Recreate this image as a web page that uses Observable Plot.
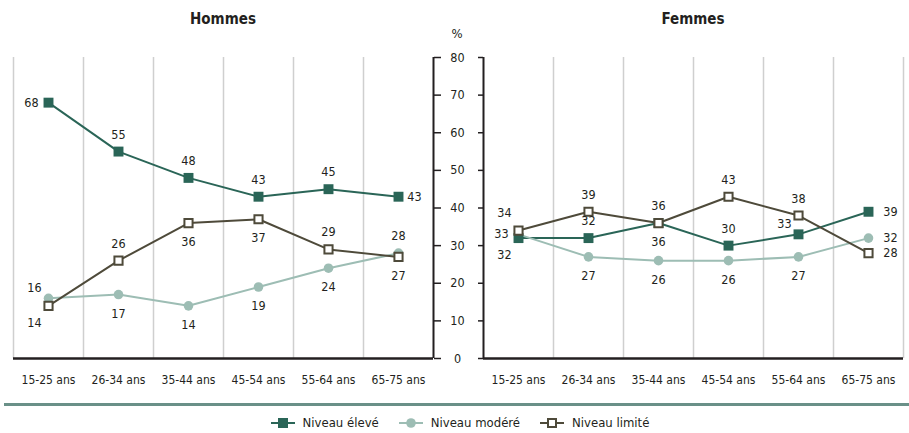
<!DOCTYPE html>
<html><head><meta charset="utf-8">
<script src="https://cdn.jsdelivr.net/npm/d3@7"></script>
<script src="https://cdn.jsdelivr.net/npm/@observablehq/plot@0.6"></script>
<style>
body{margin:0;background:#fff;font-family:"Liberation Sans Narrow","DejaVu Sans Condensed",sans-serif;color:#231f20}
#wrap{position:relative;width:909px;height:433px;overflow:hidden;background:#fff}
.title{position:absolute;top:10px;font-weight:bold;font-size:15px;transform:translateX(-50%);white-space:nowrap}
.pct{position:absolute;top:26px;left:457px;font-size:13px;transform:translateX(-50%)}
.sep{position:absolute;top:403px;left:4px;width:905px;height:2.5px;background:#6a9088}
.legend{position:absolute;top:415px;left:0;width:909px;padding-left:11px;box-sizing:border-box;display:flex;justify-content:center;align-items:center;font-size:13px}
.legend .item{display:flex;align-items:center;margin:0 10px}
.legend svg{margin-right:8px}
</style></head><body><div id="wrap"></div>
<script>
const ages = ["15-25 ans","26-34 ans","35-44 ans","45-54 ans","55-64 ans","65-75 ans"];
const seriesNames = ["Niveau élevé","Niveau modéré","Niveau limité"];
const panelTitles = ["Hommes","Femmes"];
const yTicks = [0,10,20,30,40,50,60,70,80];

const hommesEleve  = [68,55,48,43,45,43];
const hommesModere = [16,17,14,19,24,28];
const hommesLimite = [14,26,36,37,29,27];
const femmesEleve  = [32,32,36,30,33,39];
const femmesModere = [33,27,26,26,27,32];
const femmesLimite = [34,39,36,43,38,28];

// where each value label sits relative to its point
const hommesEleveLabelPos  = ["left","above","above","above","above","right"];
const hommesModereLabelPos = ["upleft","below","below","below","below","above"];
const hommesLimiteLabelPos = ["downleft","above","below","below","above","below"];
const femmesEleveLabelPos  = ["downleft","above","below","above","upleft","farright"];
const femmesModereLabelPos = ["left","below","below","below","below","farright"];
const femmesLimiteLabelPos = ["upleft2","above","above","above","above","farright"];

const colors = {"Niveau élevé":"#2a6557","Niveau modéré":"#9dbdb4","Niveau limité":"#4e4a3a"};
const OFF = {above:[0,-17],below:[0,19],right:[16,0],farright:[22,0],left:[-17,0],upleft:[-14,-10],upleft2:[-14,-18],downleft:[-14,17]};
const FONT = '"Liberation Sans Narrow","DejaVu Sans Condensed",sans-serif';
const INK = "#231f20";

function rowsFor(vals, pos, series){
  return ages.map((a,i)=>({age:a, value:vals[i], pos:pos[i], series}));
}
const hommesRows = [
  ...rowsFor(hommesEleve, hommesEleveLabelPos, seriesNames[0]),
  ...rowsFor(hommesModere, hommesModereLabelPos, seriesNames[1]),
  ...rowsFor(hommesLimite, hommesLimiteLabelPos, seriesNames[2])
];
const femmesRows = [
  ...rowsFor(femmesEleve, femmesEleveLabelPos, seriesNames[0]),
  ...rowsFor(femmesModere, femmesModereLabelPos, seriesNames[1]),
  ...rowsFor(femmesLimite, femmesLimiteLabelPos, seriesNames[2])
];

function panel(rows, side){
  const left = side==="left";
  const W = left ? 445 : 464;
  const ml = left ? 13 : 38, mr = left ? 12 : 6;
  const step = (W-ml-mr)/ages.length;
  const by = s => rows.filter(d=>d.series===s);
  const marks = [
    Plot.ruleX(ages, {x:d=>d, dx: left ? -step/2 : step/2, y1:0, y2:80, stroke:"#cfcfcf", strokeWidth:1.5}),
    Plot.ruleX([left ? ages[ages.length-1] : ages[0]], {x:d=>d, dx: left ? step/2 : -step/2, y1:0, y2:80, stroke:INK, strokeWidth:2}),
    Plot.ruleY([0], {stroke:INK, strokeWidth:2.5}),
    Plot.axisY(yTicks, {anchor: left ? "right" : "left", tickSize: left ? 7 : 5, stroke:INK, strokeWidth:1.5,
      tickFormat: left ? () => "" : d => String(d), tickPadding: left ? 0 : 21, textAnchor:"middle", fontSize:12.5, fill:INK}),
    Plot.axisX(ages, {anchor:"bottom", tickSize:0, tickPadding:17, fontSize:12, fill:INK}),
  ];
  seriesNames.forEach(s=>{
    marks.push(Plot.line(by(s), {x:"age", y:"value", stroke:colors[s], strokeWidth:2}));
  });
  marks.push(Plot.dot(by(seriesNames[1]), {x:"age", y:"value", symbol:"circle", r:4.8, fill:colors[seriesNames[1]]}));
  marks.push(Plot.dot(by(seriesNames[0]), {x:"age", y:"value", symbol:"square", r:5.6, fill:colors[seriesNames[0]]}));
  marks.push(Plot.dot(by(seriesNames[2]), {x:"age", y:"value", symbol:"square", r:4.6, fill:"white", stroke:colors[seriesNames[2]], strokeWidth:2}));
  Object.entries(OFF).forEach(([k,[dx,dy]])=>{
    const sub = rows.filter(d=>d.pos===k);
    if (sub.length) marks.push(Plot.text(sub, {x:"age", y:"value", text:d=>String(d.value), dx, dy,
      textAnchor:"middle", fontSize:12.5, fill:INK}));
  });
  return Plot.plot({
    width:W, height:400, marginTop:57, marginBottom:42, marginLeft:ml, marginRight:mr,
    style:{fontFamily:FONT, fontSize:"12.5px", color:INK, background:"transparent", overflow:"visible"},
    x:{type:"point", domain:ages, padding:0.5, label:null, axis:null},
    y:{domain:[0,80], label:null, axis:null},
    marks
  });
}

const wrap = document.getElementById("wrap");
const p1 = panel(hommesRows, "left"); p1.style.position="absolute"; p1.style.top="0px"; p1.style.left="0px";
const p2 = panel(femmesRows, "right"); p2.style.position="absolute"; p2.style.top="0px"; p2.style.left="445px";
wrap.appendChild(p1); wrap.appendChild(p2);

[[panelTitles[0],223],[panelTitles[1],693]].forEach(([t,x])=>{
  const d=document.createElement("div"); d.className="title"; d.textContent=t; d.style.left=x+"px"; wrap.appendChild(d);
});
const pct=document.createElement("div"); pct.className="pct"; pct.textContent="%"; wrap.appendChild(pct);
const sep=document.createElement("div"); sep.className="sep"; wrap.appendChild(sep);

const lg=document.createElement("div"); lg.className="legend";
seriesNames.forEach((s,i)=>{
  const it=document.createElement("div"); it.className="item";
  const c=colors[s];
  let sym;
  if(i===0) sym=`<rect x="7" y="1" width="10" height="10" fill="${c}"/>`;
  else if(i===1) sym=`<circle cx="12" cy="6" r="4.8" fill="${c}"/>`;
  else sym=`<rect x="8" y="2" width="8" height="8" fill="white" stroke="${c}" stroke-width="2"/>`;
  it.innerHTML=`<svg width="24" height="12"><line x1="0" x2="24" y1="6" y2="6" stroke="${c}" stroke-width="2"/>${sym}</svg><span>${s}</span>`;
  lg.appendChild(it);
});
wrap.appendChild(lg);
</script>
</body></html>
